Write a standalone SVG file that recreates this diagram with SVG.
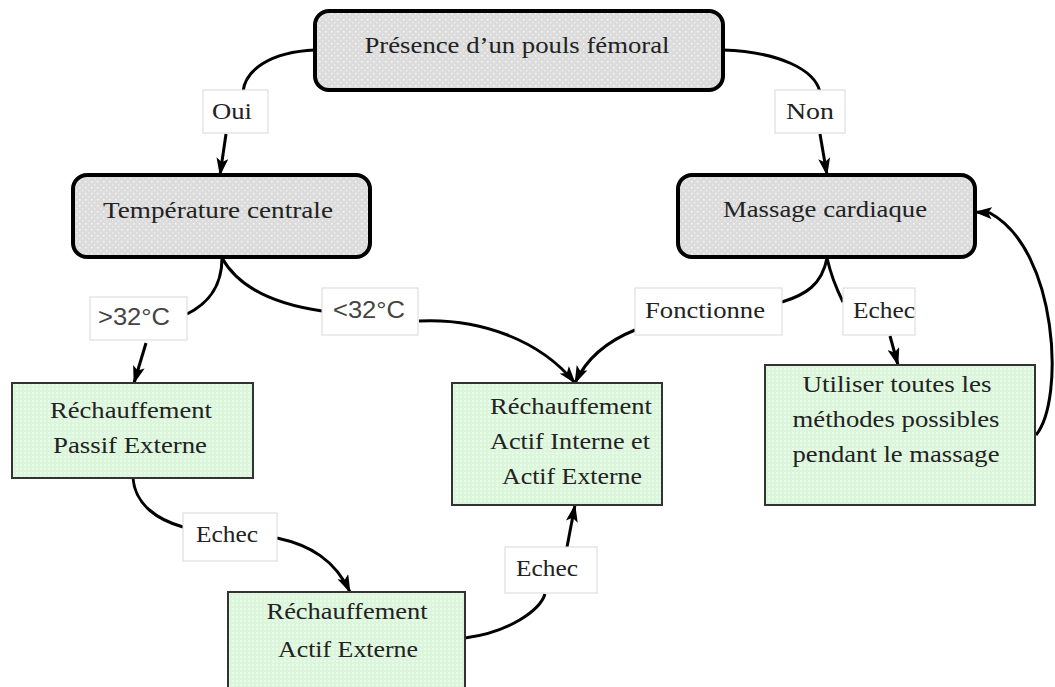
<svg xmlns="http://www.w3.org/2000/svg" width="1055" height="687" viewBox="0 0 1055 687">
<defs>
<pattern id="dots" width="6" height="6" patternUnits="userSpaceOnUse">
<rect width="6" height="6" fill="#dcdcdc"/>
<rect x="1" y="1" width="1.5" height="1.5" fill="#f6f6f6"/>
<rect x="4" y="4" width="1.5" height="1.5" fill="#ececec"/>
</pattern>
<pattern id="green" width="4" height="4" patternUnits="userSpaceOnUse">
<rect width="4" height="4" fill="#dcf6dc"/>
<rect x="0" y="0" width="2" height="2" fill="#e8fbe8"/>
</pattern>
<marker id="arr" viewBox="0 0 18 12" refX="17" refY="6" markerWidth="18" markerHeight="12" markerUnits="userSpaceOnUse" orient="auto">
<path d="M0,0 L18,6 L0,12 L4,6 Z" fill="#000"/>
</marker>
<style>
.rn{fill:url(#dots);stroke:#000;stroke-width:4}
.gn{fill:url(#green);stroke:#333;stroke-width:2}
.lb{fill:#fff;stroke:#d8d8d8;stroke-width:1}
.t{font-family:"Liberation Serif",serif;font-size:23px;fill:#222;text-anchor:middle}
.s{font-family:"Liberation Sans",sans-serif;fill:#444}
.c{fill:none;stroke:#000;stroke-width:3}
.a{fill:none;stroke:#000;stroke-width:3;marker-end:url(#arr)}
</style>
</defs>
<rect width="1055" height="687" fill="#fff"/>
<g id="connectors">
<path class="c" d="M315,50 C270,52 245,70 243,92"/>
<path class="a" d="M226,134 L220,175"/>
<path class="c" d="M723,50 C780,52 815,70 820,92"/>
<path class="a" d="M820,134 L827,175"/>
<path class="c" d="M222,258 C222,290 205,305 187,314"/>
<path class="a" d="M146,343 L134,383"/>
<path class="c" d="M222,258 C240,290 280,305 322,311"/>
<path class="a" d="M419,321 C480,318 540,340 575,383"/>
<path class="c" d="M827,258 C822,285 805,295 782,302"/>
<path class="a" d="M635,330 C610,340 588,355 575,383"/>
<path class="c" d="M827,258 C832,280 838,292 843,302"/>
<path class="a" d="M890,336 L898,365"/>
<path class="a" d="M1036,435 C1065,400 1058,250 990,213 L975,212"/>
<path class="c" d="M133,478 C135,505 158,520 183,527"/>
<path class="a" d="M277,538 C310,545 335,560 350,592"/>
<path class="c" d="M465,638 C510,632 540,610 545,594"/>
<path class="a" d="M567,547 L575,505"/>
</g>
<g id="n1"><rect class="rn" x="315" y="11" width="408" height="79" rx="14"/><text class="t" x="517" y="53" textLength="305" lengthAdjust="spacingAndGlyphs">Présence d’un pouls fémoral</text></g>
<g id="n2"><rect class="rn" x="73" y="175" width="297" height="82" rx="14"/><text class="t" x="218" y="218" textLength="230" lengthAdjust="spacingAndGlyphs">Température centrale</text></g>
<g id="n3"><rect class="rn" x="678" y="175" width="297" height="82" rx="14"/><text class="t" x="825" y="217" textLength="204" lengthAdjust="spacingAndGlyphs">Massage cardiaque</text></g>
<g id="n4"><rect class="gn" x="12" y="383" width="241" height="95"/><text class="t" x="131" y="418" textLength="162" lengthAdjust="spacingAndGlyphs">Réchauffement</text><text class="t" x="130" y="453" textLength="154" lengthAdjust="spacingAndGlyphs">Passif Externe</text></g>
<g id="n5"><rect class="gn" x="452" y="383" width="210" height="122"/><text class="t" x="571" y="414" textLength="162" lengthAdjust="spacingAndGlyphs">Réchauffement</text><text class="t" x="570" y="449" textLength="160" lengthAdjust="spacingAndGlyphs">Actif Interne et</text><text class="t" x="572" y="484" textLength="140" lengthAdjust="spacingAndGlyphs">Actif Externe</text></g>
<g id="n6"><rect class="gn" x="765" y="365" width="270" height="140"/><text class="t" x="897" y="392" textLength="189" lengthAdjust="spacingAndGlyphs">Utiliser toutes les</text><text class="t" x="896" y="427" textLength="207" lengthAdjust="spacingAndGlyphs">méthodes possibles</text><text class="t" x="896" y="462" textLength="207" lengthAdjust="spacingAndGlyphs">pendant le massage</text></g>
<g id="n7"><rect class="gn" x="228" y="592" width="237" height="100"/><text class="t" x="347" y="619" textLength="161" lengthAdjust="spacingAndGlyphs">Réchauffement</text><text class="t" x="348" y="657" textLength="140" lengthAdjust="spacingAndGlyphs">Actif Externe</text></g>
<g id="l1"><rect class="lb" x="203" y="90" width="65" height="43"/><text class="t" x="232" y="119" textLength="40" lengthAdjust="spacingAndGlyphs">Oui</text></g>
<g id="l2"><rect class="lb" x="775" y="90" width="70" height="43"/><text class="t" x="810" y="119" textLength="48" lengthAdjust="spacingAndGlyphs">Non</text></g>
<g id="l3"><rect class="lb" x="90" y="297" width="97" height="43"/><text class="t s" x="134" y="325" textLength="72" lengthAdjust="spacingAndGlyphs">&gt;32°C</text></g>
<g id="l4"><rect class="lb" x="322" y="288" width="96" height="47"/><text class="t s" x="369" y="318" textLength="72" lengthAdjust="spacingAndGlyphs">&lt;32°C</text></g>
<g id="l5"><rect class="lb" x="635" y="288" width="147" height="47"/><text class="t" x="705" y="318" textLength="120" lengthAdjust="spacingAndGlyphs">Fonctionne</text></g>
<g id="l6"><rect class="lb" x="843" y="288" width="72" height="47"/><text class="t" x="884" y="318" textLength="62" lengthAdjust="spacingAndGlyphs">Echec</text></g>
<g id="l7"><rect class="lb" x="183" y="513" width="94" height="48"/><text class="t" x="227" y="542" textLength="62" lengthAdjust="spacingAndGlyphs">Echec</text></g>
<g id="l8"><rect class="lb" x="505" y="547" width="92" height="46"/><text class="t" x="547" y="576" textLength="62" lengthAdjust="spacingAndGlyphs">Echec</text></g>
</svg>
